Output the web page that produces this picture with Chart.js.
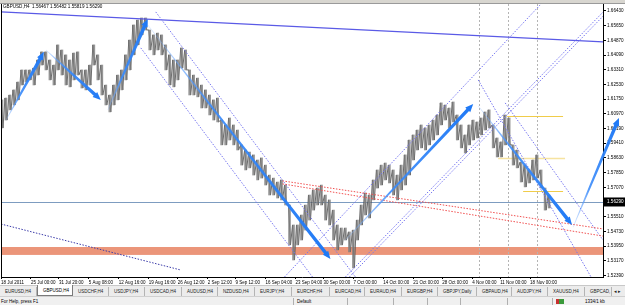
<!DOCTYPE html>
<html>
<head>
<meta charset="utf-8">
<script src="https://cdn.jsdelivr.net/npm/chart.js@4.4.0/dist/chart.umd.min.js"></script>
<style>
  html, body { margin: 0; padding: 0; background: #fff; }
  #wrap { position: relative; width: 625px; height: 305px; overflow: hidden; font-family: "Liberation Sans", Arial, sans-serif; }
  #c { position: absolute; left: 0; top: 0; }
  #toolbar { position: absolute; left: 0; top: 0; width: 625px; height: 3px; background: #d8d6d0; border-bottom: 1px solid #9a9a9a; }
  #title { position: absolute; left: 3px; top: 4px; font-size: 4.6px; line-height: 5px; color: #000; white-space: pre; }
  #tabs { position: absolute; left: 0; top: 285px; width: 625px; height: 11px; background: #ececec; border-top: 1px solid #c8c8c8; }
  .tab { position: absolute; top: 1px; height: 9px; font-size: 4.5px; line-height: 9px; padding-left: 5px; box-sizing: border-box; border-right: 1px solid #b4b4b4; white-space: nowrap; color: #222; }
  .tab.on { background: #fff; border: 1px solid #7a7a7a; border-top: none; top: -1px; height: 11px; line-height: 11px; color: #000; }
  #status { position: absolute; left: 0; top: 296px; width: 625px; height: 9px; background: #f0f0f0; border-top: 1px solid #d0d0d0; font-size: 4.5px; line-height: 9px; color: #000; }
  .st { position: absolute; top: 0; white-space: nowrap; }
  .sep { position: absolute; top: 1px; width: 1px; height: 7px; background: #b0b0b0; }
</style>
</head>
<body>
<div id="wrap">
  <canvas id="c" width="625" height="305"></canvas>
  <div id="toolbar"></div>
  <div id="title">GBPUSD,H4  1.56467 1.56482 1.55819 1.56290</div>
  <div id="tabs"></div>
  <div id="status"></div>
</div>
<script>
// GBPUSD H4, bar index along x, every 4 bars
const barX = [0,4,8,12,16,20,24,28,32,36,40,44,48,52,56,60,64,68,72,76,80,84,88,92,96,100,104,108,112,116,120,124,128,132,136,140,144,148,152,156,160,164,168,172,176,180,184,188,192,196,200,204,208,212,216,220,224,228,232,236,240,244,248,252,256,260,264,268,272,276,280,284,288,292,296,300,304,308,312,316,320,324,328,332,336,340,344,348,352,356,360,364,368,372,376,380,384,388,392,396,400,404,408,412,416,420,424,428,432,436,440,444,448,452,456,460,464,468,472,476,480,484,488,492,496,500,504,508,512,516,520,524,528,532,536,540,544,548];
const barHigh = [1.6171,1.6181,1.6197,1.6224,1.6266,1.6330,1.6330,1.6330,1.6340,1.6383,1.6426,1.6426,1.6383,1.6356,1.6463,1.6436,1.6410,1.6383,1.6420,1.6426,1.6330,1.6330,1.6356,1.6463,1.6410,1.6356,1.6250,1.6197,1.6250,1.6303,1.6330,1.6410,1.6489,1.6569,1.6595,1.6606,1.6606,1.6542,1.6516,1.6526,1.6516,1.6463,1.6410,1.6383,1.6383,1.6447,1.6436,1.6330,1.6303,1.6287,1.6250,1.6224,1.6197,1.6171,1.6181,1.6064,1.6038,1.6075,1.6038,1.6011,1.5932,1.5905,1.5894,1.5879,1.5852,1.5863,1.5825,1.5772,1.5756,1.5735,1.5746,1.5719,1.5613,1.5507,1.5507,1.5560,1.5613,1.5666,1.5693,1.5703,1.5719,1.5666,1.5640,1.5586,1.5507,1.5491,1.5491,1.5470,1.5480,1.5533,1.5613,1.5677,1.5666,1.5746,1.5799,1.5825,1.5836,1.5825,1.5799,1.5772,1.5825,1.5879,1.5958,1.5985,1.6011,1.6038,1.6022,1.6038,1.6064,1.6091,1.6155,1.6144,1.6128,1.6160,1.6091,1.6038,1.5985,1.6038,1.6064,1.6054,1.6075,1.6107,1.6118,1.6038,1.5969,1.5948,1.6091,1.6075,1.5932,1.5905,1.5841,1.5825,1.5799,1.5852,1.5879,1.5799,1.5703,1.5666];
const barLow = [1.6022,1.6064,1.6118,1.6144,1.6171,1.6250,1.6266,1.6277,1.6250,1.6303,1.6356,1.6330,1.6277,1.6250,1.6330,1.6303,1.6250,1.6240,1.6277,1.6303,1.6234,1.6224,1.6250,1.6356,1.6277,1.6197,1.6144,1.6107,1.6144,1.6171,1.6224,1.6277,1.6330,1.6410,1.6463,1.6516,1.6542,1.6436,1.6410,1.6436,1.6410,1.6330,1.6250,1.6240,1.6277,1.6340,1.6330,1.6197,1.6197,1.6187,1.6128,1.6128,1.6091,1.6064,1.6054,1.5932,1.5932,1.5958,1.5932,1.5905,1.5825,1.5799,1.5810,1.5772,1.5746,1.5756,1.5719,1.5666,1.5666,1.5650,1.5640,1.5613,1.5401,1.5321,1.5401,1.5427,1.5480,1.5533,1.5586,1.5613,1.5613,1.5533,1.5507,1.5427,1.5374,1.5401,1.5427,1.5364,1.5279,1.5427,1.5507,1.5560,1.5544,1.5640,1.5703,1.5719,1.5746,1.5730,1.5666,1.5640,1.5693,1.5719,1.5772,1.5852,1.5905,1.5916,1.5905,1.5932,1.5958,1.5985,1.6038,1.6064,1.6022,1.6054,1.5958,1.5916,1.5889,1.5932,1.5958,1.5969,1.5985,1.6011,1.6022,1.5916,1.5868,1.5868,1.5932,1.5932,1.5825,1.5810,1.5735,1.5709,1.5730,1.5746,1.5756,1.5703,1.5586,1.5597];

const dateTicks = [0,30,58,88,118,148,177,207,235,265,295,323,353,383,413,442,472,500,530];
const dateLabels = ["18 Jul 2011","25 Jul 00:00","31 Jul 20:00","5 Aug 08:00","12 Aug 16:00","19 Aug 16:00","26 Aug 12:00","2 Sep 12:00","9 Sep 12:00","16 Sep 04:00","23 Sep 04:00","30 Sep 00:00","7 Oct 00:00","14 Oct 00:00","21 Oct 00:00","28 Oct 00:00","4 Nov 00:00","11 Nov 00:00","18 Nov 00:00"];
const priceTicks = [1.66430,1.65650,1.64870,1.64090,1.63310,1.62530,1.61750,1.60970,1.60190,1.59410,1.58630,1.57850,1.57070,1.56290,1.55510,1.54730,1.53950,1.53170,1.52390];
const priceMin = 1.52308, priceMax = 1.66800;
const lastPrice = 1.56290;

// objects drawn on the chart: [bar1, price1, bar2, price2]
const topTrend = [0, 1.6638, 603, 1.6479];
const channelLines = [
  [155, 1.6638, 355, 1.5231],
  [140, 1.6447, 312, 1.5231],
  [284, 1.5231, 540, 1.6675],
  [345, 1.5231, 610, 1.6675],
  [349, 1.5231, 614, 1.6675],
  [478, 1.6277, 591, 1.5231],
  [505, 1.6155, 603, 1.5427]
];
const navyLine = [0, 1.5512, 180, 1.5268];
const redLines = [[282, 1.5741, 603, 1.5486], [282, 1.5725, 603, 1.5448]];
const goldLevels = [[507, 563, 1.6086], [498, 565, 1.5863], [523, 563, 1.5687]];
const separators = [479, 508, 537];
const zone = [1.5390, 1.5348];
const arrows = [
  [5, 1.6064, 43, 1.6426],
  [45, 1.6436, 100, 1.6171],
  [107, 1.6118, 147, 1.6601],
  [147, 1.6569, 330, 1.5326],
  [345, 1.5427, 473, 1.6149],
  [478, 1.6139, 572, 1.5507],
  [573, 1.5496, 619, 1.6075]
];

const pricePath = [];
barX.forEach((x, i) => {
  pricePath.push({ x: x, y: barHigh[i] });
  pricePath.push({ x: x + 2, y: barLow[i] });
});
const priceRanges = barX.map((x, i) => ({ x: x + 1, y: [barLow[i], barHigh[i]] }));

function seg(ctx, sx, sy, l, color, dash, w) {
  ctx.save();
  ctx.strokeStyle = color;
  ctx.lineWidth = w || 1;
  ctx.setLineDash(dash || []);
  ctx.beginPath();
  ctx.moveTo(sx.getPixelForValue(l[0]), sy.getPixelForValue(l[1]));
  ctx.lineTo(sx.getPixelForValue(l[2]), sy.getPixelForValue(l[3]));
  ctx.stroke();
  ctx.restore();
}

function arrow(ctx, x1, y1, x2, y2) {
  const dx = x2 - x1, dy = y2 - y1, L = Math.hypot(dx, dy);
  const ux = dx / L, uy = dy / L, nx = -uy, ny = ux;
  const head = Math.min(8, L * 0.25), hw = 3.4;
  const bx = x2 - ux * head, by = y2 - uy * head;
  const mx = x1 + dx * 0.35, my = y1 + dy * 0.35;
  const g = ctx.createLinearGradient(x1, y1, x2, y2);
  g.addColorStop(0, 'rgba(140,185,255,0.35)');
  g.addColorStop(0.35, 'rgba(60,140,250,0.9)');
  g.addColorStop(1, 'rgb(30,120,245)');
  ctx.fillStyle = g;
  ctx.beginPath();
  ctx.moveTo(x1 + nx * 0.3, y1 + ny * 0.3);
  ctx.lineTo(mx + nx * 1.0, my + ny * 1.0);
  ctx.lineTo(bx + nx * 1.8, by + ny * 1.8);
  ctx.lineTo(bx + nx * hw, by + ny * hw);
  ctx.lineTo(x2, y2);
  ctx.lineTo(bx - nx * hw, by - ny * hw);
  ctx.lineTo(bx - nx * 1.8, by - ny * 1.8);
  ctx.lineTo(mx - nx * 1.0, my - ny * 1.0);
  ctx.lineTo(x1 - nx * 0.3, y1 - ny * 0.3);
  ctx.closePath();
  ctx.fill();
}

const drawings = {
  id: 'drawings',
  beforeDatasetsDraw(chart) {
    const { ctx, chartArea: a, scales: { x, y } } = chart;
    ctx.save();
    ctx.beginPath();
    ctx.rect(a.left, a.top, a.right - a.left, a.bottom - a.top);
    ctx.clip();
    // support zone
    const z1 = y.getPixelForValue(zone[0]), z2 = y.getPixelForValue(zone[1]);
    ctx.fillStyle = '#eb9579';
    ctx.fillRect(a.left, z1, a.right - a.left, z2 - z1);
    // period separators
    separators.forEach(v => {
      const px = Math.round(x.getPixelForValue(v)) + 0.5;
      ctx.save();
      ctx.strokeStyle = '#b4b4b4';
      ctx.setLineDash([2, 2]);
      ctx.beginPath();
      ctx.moveTo(px, a.top);
      ctx.lineTo(px, a.bottom);
      ctx.stroke();
      ctx.restore();
    });
    // last price line
    const lp = Math.round(y.getPixelForValue(lastPrice)) + 0.5;
    ctx.strokeStyle = '#7d9cc0';
    ctx.lineWidth = 1;
    ctx.beginPath();
    ctx.moveTo(a.left, lp);
    ctx.lineTo(a.right, lp);
    ctx.stroke();
    // gold levels
    goldLevels.forEach((g, i) => {
      const py = Math.round(y.getPixelForValue(g[2])) + 0.5;
      ctx.strokeStyle = i === 1 ? '#f6e3a0' : '#f0cc4a';
      ctx.lineWidth = i === 1 ? 1.6 : 1;
      ctx.beginPath();
      ctx.moveTo(x.getPixelForValue(g[0]), py);
      ctx.lineTo(x.getPixelForValue(g[1]), py);
      ctx.stroke();
    });
    ctx.restore();
  },
  afterDatasetsDraw(chart) {
    const { ctx, chartArea: a, scales: { x, y } } = chart;
    ctx.save();
    ctx.beginPath();
    ctx.rect(a.left, a.top, a.right - a.left, a.bottom - a.top);
    ctx.clip();
    seg(ctx, x, y, topTrend, '#5a5ae6', [], 1.4);
    seg(ctx, x, y, navyLine, '#3a3aa8', [1.5, 1.5], 1);
    channelLines.forEach(l => seg(ctx, x, y, l, '#7676f0', [1.5, 1.5], 1));
    redLines.forEach(l => seg(ctx, x, y, l, '#f05050', [1.5, 1.5], 1));
    // left frame
    ctx.strokeStyle = '#000';
    ctx.beginPath();
    ctx.moveTo(a.left + 0.5, a.top);
    ctx.lineTo(a.left + 0.5, a.bottom);
    ctx.stroke();
    ctx.restore();
    arrows.forEach(r => arrow(ctx, x.getPixelForValue(r[0]), y.getPixelForValue(r[1]),
                                   x.getPixelForValue(r[2]), y.getPixelForValue(r[3])));
  },
  afterDraw(chart) {
    const { ctx, chartArea: a, scales: { y } } = chart;
    const py = y.getPixelForValue(lastPrice);
    ctx.save();
    ctx.fillStyle = '#000';
    ctx.fillRect(a.right + 1, py - 4.5, 21, 9);
    ctx.fillStyle = '#fff';
    ctx.font = '4.6px "Liberation Sans", Arial, sans-serif';
    ctx.textBaseline = 'middle';
    ctx.fillText(lastPrice.toFixed(5), a.right + 4, py);
    ctx.restore();
  }
};

const font = { family: '"Liberation Sans", Arial, sans-serif', size: 4.5 };

new Chart(document.getElementById('c'), {
  type: 'line',
  data: {
    datasets: [{
      type: 'bar',
      label: 'range',
      data: priceRanges,
      backgroundColor: 'rgba(125,125,125,0.8)',
      barThickness: 2,
      borderWidth: 0
    }, {
      label: 'GBPUSD,H4',
      data: pricePath,
      borderColor: 'rgba(80,80,80,0.95)',
      borderWidth: 0.9,
      pointRadius: 0,
      tension: 0
    }]
  },
  options: {
    responsive: false,
    animation: false,
    devicePixelRatio: 1,
    layout: { padding: { top: 4, left: 0, right: 0, bottom: 0 } },
    plugins: { legend: { display: false }, tooltip: { enabled: false } },
    scales: {
      x: {
        type: 'linear',
        min: 0,
        max: 603,
        offset: false,
        afterBuildTicks: s => { s.ticks = dateTicks.map(v => ({ value: v })); },
        afterFit: s => { s.height = 28; },
        ticks: {
          autoSkip: false, maxRotation: 0, minRotation: 0, align: 'start',
          padding: 1, color: '#000', font: font,
          callback: (v, i) => dateLabels[i]
        },
        grid: { drawOnChartArea: false, tickLength: 2, color: '#000', offset: false },
        border: { color: '#000' }
      },
      y: {
        position: 'right',
        min: priceMin,
        max: priceMax,
        afterBuildTicks: s => { s.ticks = priceTicks.map(v => ({ value: v })); },
        afterFit: s => { s.width = 22; },
        ticks: {
          autoSkip: false, padding: 1, color: '#000', font: { family: font.family, size: 4.6 },
          callback: v => Number(v).toFixed(5)
        },
        grid: { drawOnChartArea: false, tickLength: 3, color: '#000' },
        border: { color: '#000' }
      }
    }
  },
  plugins: [drawings]
});

// terminal chrome: tabs and status bar
const tabNames = ["EURUSD,H4","GBPUSD,H4","USDCHF,H4","USDJPY,H4","USDCAD,H4","AUDUSD,H4","NZDUSD,H4","EURJPY,H4","EURCHF,H4","EURCAD,H4","EURAUD,H4","EURGBP,H4","GBPJPY,Daily","GBPAUD,H4","AUDJPY,H4","XAUUSD,H4","GBPCAD,"];
const tabLeft = [0,37,73,109,145,182,218,255,292,330,365,402,438,477,512,548,585,612];
const tabs = document.getElementById('tabs');
tabNames.forEach((n, i) => {
  const d = document.createElement('div');
  d.className = 'tab' + (i === 1 ? ' on' : '');
  d.style.left = tabLeft[i] + 'px';
  d.style.width = (tabLeft[i + 1] - tabLeft[i]) + 'px';
  d.textContent = n;
  tabs.appendChild(d);
});
const arr = document.createElement('div');
arr.className = 'tab';
arr.style.left = '613px';
arr.style.border = 'none';
arr.style.paddingLeft = '1px';
arr.textContent = '\u25C2 \u25B8';
tabs.appendChild(arr);

const status = document.getElementById('status');
[["For Help, press F1", 1], ["Default", 297], ["1334/1 kb", 585]].forEach(t => {
  const s = document.createElement('div');
  s.className = 'st';
  s.style.left = t[1] + 'px';
  s.textContent = t[0];
  status.appendChild(s);
});
[293, 347, 393, 427, 460, 507, 552].forEach(v => {
  const s = document.createElement('div');
  s.className = 'sep';
  s.style.left = v + 'px';
  status.appendChild(s);
});
const icon = document.createElement('div');
icon.style.cssText = 'position:absolute;left:556px;top:2px;width:8px;height:5px;background:linear-gradient(90deg,#c83030 0 40%,#3a9a3a 40% 100%);';
status.appendChild(icon);
</script>
</body>
</html>
